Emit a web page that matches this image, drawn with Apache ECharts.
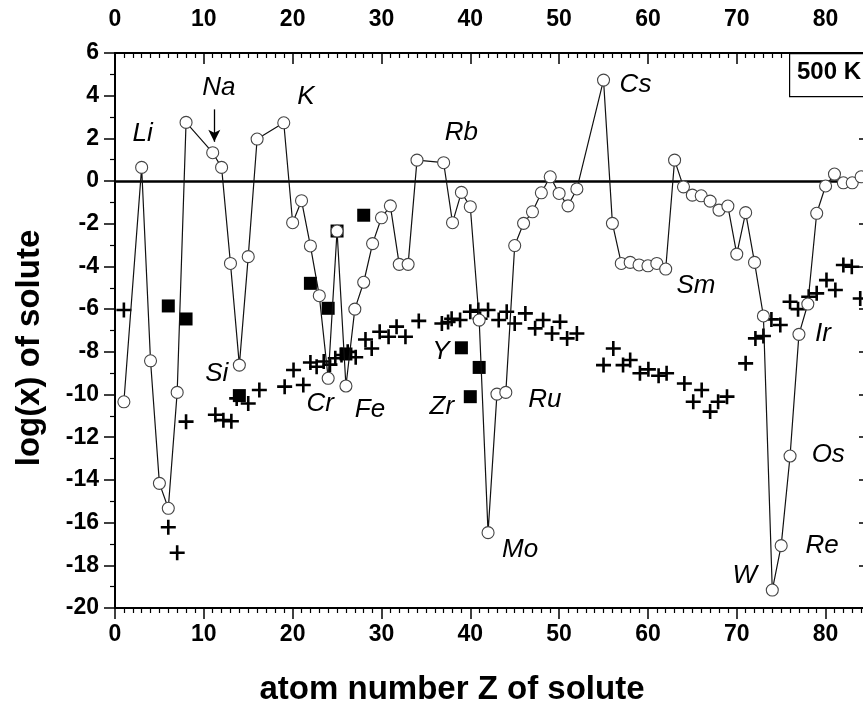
<!DOCTYPE html>
<html>
<head>
<meta charset="utf-8">
<script src="https://cdn.jsdelivr.net/npm/echarts@6/dist/echarts.min.js"></script>
<style>html,body{margin:0;padding:0;background:#fff;}#c{width:863px;height:707px;}</style>
</head>
<body>
<div id="c"></div>
<script>
// open circles (connected line)
const circleZ = [1,3,4,5,6,7,8,11,12,13,14,15,16,19,20,21,22,23,24,25,26,27,28,29,30,31,32,33,34,37,38,39,40,41,42,43,44,45,46,47,48,49,50,51,52,55,56,57,58,59,60,61,62,63,64,65,66,67,68,69,70,71,72,73,74,75,76,77,78,79,80,81,82,83,84];
const circleV = [-10.34,0.64,-8.42,-14.16,-15.33,-9.9,2.75,1.33,0.64,-3.86,-8.62,-3.54,1.97,2.73,-1.95,-0.92,-3.04,-5.37,-9.24,-2.34,-9.6,-6.0,-4.74,-2.93,-1.72,-1.16,-3.9,-3.9,0.98,0.86,-1.95,-0.53,-1.2,-6.51,-16.47,-9.98,-9.9,-3.02,-1.98,-1.44,-0.55,0.2,-0.58,-1.16,-0.37,4.73,-1.98,-3.86,-3.81,-3.93,-3.97,-3.86,-4.12,0.98,-0.27,-0.66,-0.69,-0.94,-1.36,-1.17,-3.42,-1.48,-3.81,-6.32,-19.16,-17.08,-12.88,-7.18,-5.76,-1.51,-0.23,0.33,-0.08,-0.08,0.2];
// filled squares
const squareZ = [6,8,14,22,24,25,26,28,39,40,41];
const squareV = [-5.85,-6.46,-10.05,-4.79,-5.96,-2.34,-8.1,-1.6,-7.81,-10.1,-8.73];
// plus markers
const plusZ = [1.0,6.0,7.0,8.0,11.3,12.2,13.1,13.7,15.0,16.25,19.1,20.1,21.2,22.0,22.7,23.5,24.2,24.8,25.5,26.2,27.1,28.2,28.9,29.8,30.8,31.7,32.7,34.2,36.8,37.5,37.9,38.85,40.0,40.9,41.1,42.0,43.2,44.1,45.0,46.2,47.3,48.2,49.2,50.1,50.9,52.0,55.0,56.1,57.2,58.0,59.1,60.05,61.2,62.1,64.1,65.1,66.05,67.0,67.9,68.9,71.0,72.1,73.0,73.9,74.9,76.0,76.9,78.1,79.0,80.1,81.1,82.0,82.95,83.9];
const plusV = [-6.04,-16.22,-17.41,-11.27,-10.95,-11.2,-11.25,-10.18,-10.42,-9.79,-9.63,-8.85,-9.55,-8.5,-8.7,-8.45,-8.6,-8.3,-8.15,-8.0,-8.25,-7.42,-7.84,-7.06,-7.29,-6.82,-7.29,-6.55,-6.67,-6.6,-6.45,-6.51,-6.12,-6.04,-6.45,-6.04,-6.51,-6.12,-6.67,-6.2,-6.9,-6.51,-7.14,-6.59,-7.37,-7.14,-8.62,-7.84,-8.62,-8.38,-9.0,-8.82,-9.12,-9.0,-9.48,-10.34,-9.79,-10.8,-10.34,-10.1,-8.54,-7.37,-7.26,-6.48,-6.74,-5.65,-6.0,-5.42,-5.26,-4.64,-5.1,-3.93,-4.01,-5.5];
// element labels (data units)
const labelText = ['Li','Na','K','Rb','Cs','Si','Cr','Fe','Y','Zr','Ru','Mo','Sm','Ir','Os','Re','W'];
const labelZ = [3.1,11.7,21.5,39.0,58.6,11.45,23.1,28.7,36.7,36.8,48.4,45.6,65.4,79.7,80.3,79.6,70.9];
const labelV = [2.2,4.36,3.93,2.27,4.5,-9.04,-10.45,-10.73,-8.0,-10.57,-10.26,-17.28,-4.92,-7.13,-12.83,-17.1,-18.5];
const xTicks = [0,10,20,30,40,50,60,70,80];
const yTicks = [-20,-18,-16,-14,-12,-10,-8,-6,-4,-2,0,2,4,6];
const tempLabel = '500 K';
const xTitle = 'atom number Z of solute';
const yTitle = 'log(x) of solute';

const zip = (a,b) => a.map((v,i)=>[v,b[i]]);
const FONT = '"Liberation Sans", Arial, sans-serif';
const plusPath = 'path://M6.2,0H8.8V6.2H15V8.8H8.8V15H6.2V8.8H0V6.2H6.2Z';

const chart = echarts.init(document.getElementById('c'), null, {renderer:'canvas'});

function xAxisDef(pos, inside){
  return {
    type:'value', position:pos, min:0, max:85, interval:10,
    axisLine:{show:true, onZero:false, lineStyle:{color:'#000', width:2}},
    axisTick:{show:true, inside:inside, length:11, lineStyle:{color:'#000', width:1.5}},
    minorTick:{show:true, splitNumber:10, length:5, lineStyle:{color:'#000', width:1.2}},
    splitLine:{show:false}, minorSplitLine:{show:false},
    axisLabel:{show:true, margin: inside ? 22 : 15, color:'#000', fontFamily:FONT, fontWeight:'bold', fontSize:23,
      formatter: v => xTicks.indexOf(v) >= 0 ? String(v) : ''}
  };
}
function yAxisDef(pos, inside, showLabels){
  return {
    type:'value', position:pos, min:-20, max:6, interval:2,
    axisLine:{show:true, onZero:false, lineStyle:{color:'#000', width:2}},
    axisTick:{show:true, inside:inside, length:11, lineStyle:{color:'#000', width:1.5}},
    minorTick:{show:true, splitNumber:2, length:5, lineStyle:{color:'#000', width:1.2}},
    splitLine:{show:false},
    axisLabel:{show:showLabels, margin:16, color:'#000', fontFamily:FONT, fontWeight:'bold', fontSize:23,
      formatter: v => yTicks.indexOf(v) >= 0 ? String(v) : ''}
  };
}

chart.setOption({
  animation:false,
  backgroundColor:'#fff',
  grid:{left:115, top:53, width:755, height:555, containLabel:false, outerBoundsMode:'none'},
  xAxis:[xAxisDef('bottom', false), xAxisDef('top', true)],
  yAxis:[yAxisDef('left', false, true), yAxisDef('right', true, false)],
  series:[
    {
      type:'scatter', name:'plus', xAxisIndex:0, yAxisIndex:0,
      data: zip(plusZ, plusV), symbol: plusPath, symbolSize:15,
      itemStyle:{color:'#000', opacity:1}, z:2
    },
    {
      type:'scatter', name:'square', xAxisIndex:0, yAxisIndex:0,
      data: zip(squareZ, squareV), symbol:'rect', symbolSize:13,
      itemStyle:{color:'#000', opacity:1}, z:3
    },
    {
      type:'line', name:'circle', xAxisIndex:0, yAxisIndex:0,
      data: zip(circleZ, circleV), symbol:'circle', symbolSize:12, showSymbol:true,
      lineStyle:{color:'#111', width:1.2},
      itemStyle:{color:'#fff', borderColor:'#444', borderWidth:1.1, opacity:1},
      z:4,
      markLine:{
        silent:true, symbol:['none','none'], label:{show:false},
        lineStyle:{color:'#000', width:2.5, type:'solid'},
        data:[{yAxis:0}], z:1
      }
    },
    {
      type:'scatter', name:'labels', xAxisIndex:0, yAxisIndex:0,
      data: labelZ.map((z,i)=>({value:[z, labelV[i]], name:labelText[i]})),
      symbolSize:0, itemStyle:{opacity:1},
      label:{show:true, position:'inside', formatter: p => p.name, color:'#000', opacity:1,
        fontFamily:FONT, fontStyle:'italic', fontSize:26},
      z:5
    },
    {
      type:'line', name:'arrow', xAxisIndex:0, yAxisIndex:0,
      data:[], silent:true,
      markLine:{
        silent:true, label:{show:false}, symbol:['none','arrow'], symbolSize:[9,12],
        lineStyle:{color:'#000', width:1.3, type:'solid', opacity:1},
        itemStyle:{color:'#000'},
        data:[[{coord:[11.18,3.36]},{coord:[11.18,1.84]}]]
      }
    }
  ],
  graphic:[
    {type:'rect', left:789, top:53, z:100, shape:{width:110, height:43},
     style:{fill:'#fff', stroke:'#000', lineWidth:1.2}},
    {type:'text', left:797, top:60, z:101,
     style:{text:tempLabel, fill:'#000', font:'bold 24px "Liberation Sans", Arial, sans-serif'}},
    {type:'text', x:452, y:690, z:101,
     style:{text:xTitle, fill:'#000', align:'center', verticalAlign:'middle',
       font:'bold 33px "Liberation Sans", Arial, sans-serif'}},
    {type:'text', x:30, y:348, rotation:Math.PI/2, z:101,
     style:{text:yTitle, fill:'#000', align:'center', verticalAlign:'middle',
       font:'bold 33px "Liberation Sans", Arial, sans-serif'}}
  ]
});
</script>
</body>
</html>
